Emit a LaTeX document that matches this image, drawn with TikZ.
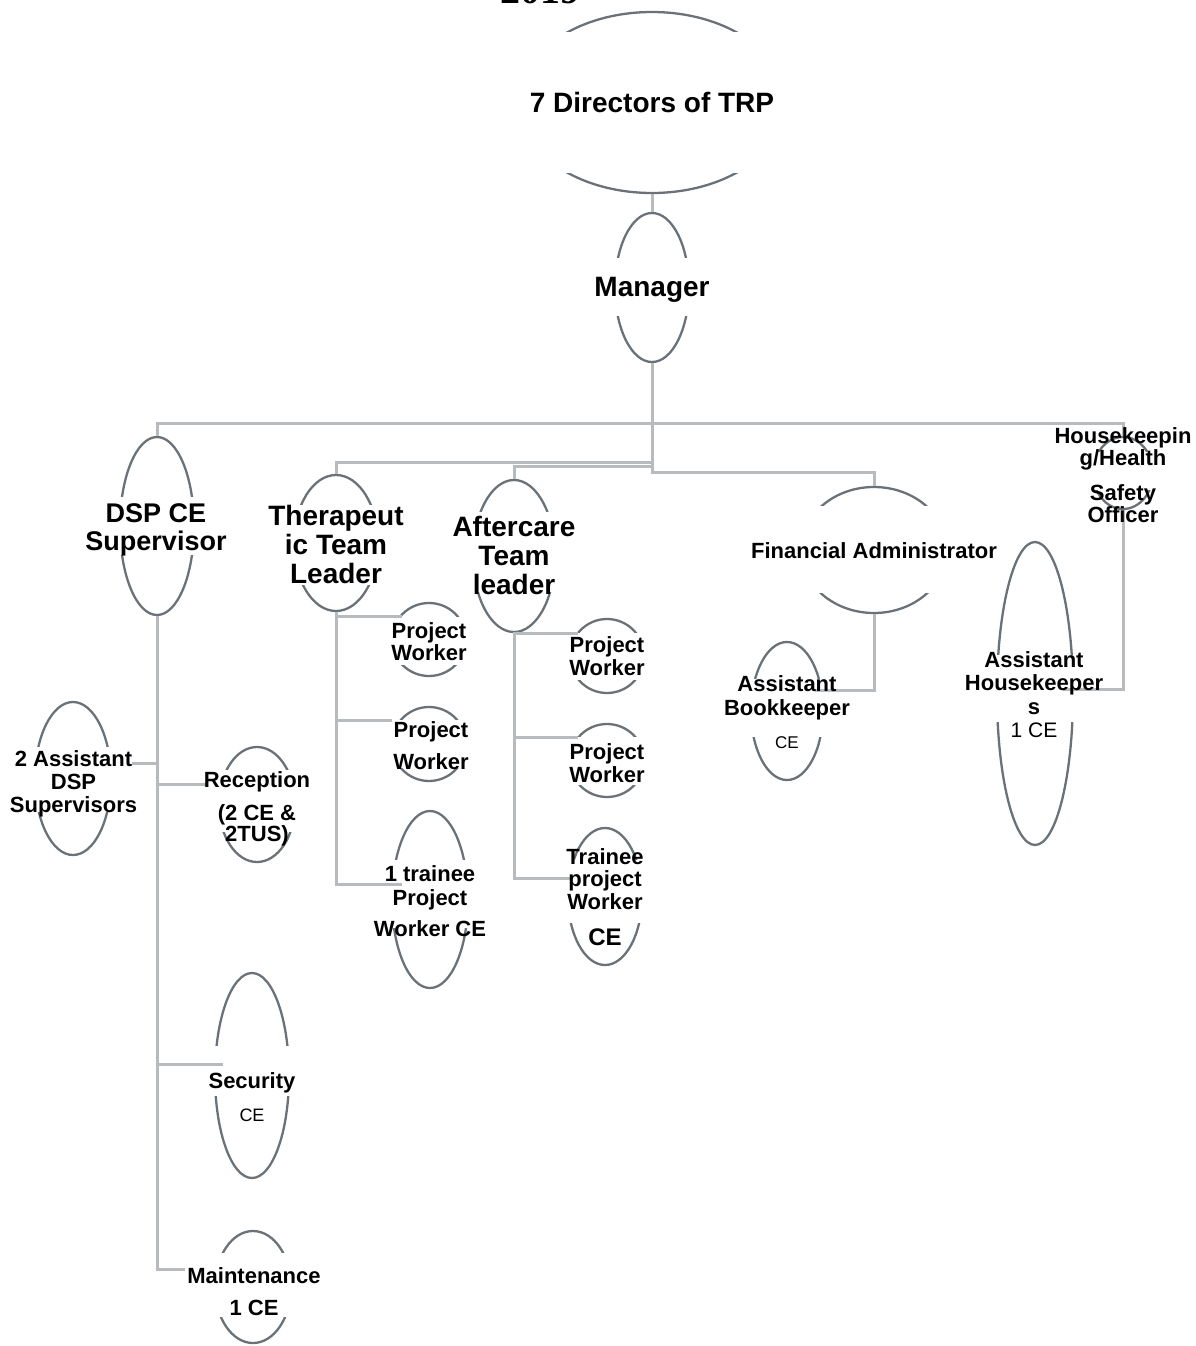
\documentclass[tikz,border=0pt]{standalone}
\usepackage{fontspec}
\setmainfont{Liberation Sans}
\newfontfamily\yearfont{Liberation Serif}
\usetikzlibrary{shapes.geometric}
\definecolor{ellgray}{RGB}{106,114,120}
\definecolor{linegray}{RGB}{184,187,189}
\begin{document}
\begin{tikzpicture}
	[
		x                       = 1pt,
		y                       = -1pt,
		post/.style             = {ellipse, draw=ellgray, line width=2.3pt, inner sep=0pt},
		conn/.style             = {draw=linegray, line width=3pt},
		lbl/.style              = {anchor=north, align=center, inner sep=0pt,
		                           font=\bfseries\fontsize{22}{23}\selectfont},
		big/.style              = {font=\bfseries\fontsize{28}{29}\selectfont}
	]
	\useasboundingbox (0,0) rectangle (1196,1346);

	\node [anchor=base, font=\yearfont\bfseries\fontsize{40}{40}\selectfont] (year) at (540,4) {2019};

	% ovals
	\node [post, minimum width=268pt, minimum height=181pt] (dir)  at (652,102.5) {};
	\node [post, minimum width=74pt,  minimum height=149pt] (mgr)  at (652,287.5) {};
	\node [post, minimum width=74pt,  minimum height=178pt] (dsp)  at (157,526)   {};
	\node [post, minimum width=84pt,  minimum height=136pt] (ther) at (336,543)   {};
	\node [post, minimum width=82pt,  minimum height=152pt] (aft)  at (514,556)   {};
	\node [post, minimum width=146pt, minimum height=126pt] (fin)  at (874,550)   {};
	\node [post, minimum width=60pt,  minimum height=72pt]  (hk)   at (1123,473)  {};
	\node [post, minimum width=76pt,  minimum height=303pt] (ahk)  at (1035,693.5) {};
	\node [post, minimum width=72pt,  minimum height=138pt] (bk)   at (787,711)   {};
	\node [post, minimum width=76pt,  minimum height=153pt] (asup) at (73,778.5)  {};
	\node [post, minimum width=76pt,  minimum height=115pt] (rec)  at (257,804.5) {};
	\node [post, minimum width=74pt,  minimum height=205pt] (sec)  at (252,1075.5) {};
	\node [post, minimum width=76pt,  minimum height=112pt] (mnt)  at (253,1287)  {};
	\node [post, minimum width=74pt,  minimum height=73pt]  (pw1)  at (429,639.5) {};
	\node [post, minimum width=74pt,  minimum height=74pt]  (pw2)  at (429,744)   {};
	\node [post, minimum width=76pt,  minimum height=177pt] (tpw)  at (430,899.5) {};
	\node [post, minimum width=74pt,  minimum height=74pt]  (apw1) at (607,656)   {};
	\node [post, minimum width=74pt,  minimum height=73pt]  (apw2) at (607,760.5) {};
	\node [post, minimum width=74pt,  minimum height=137pt] (atpw) at (605,896.5) {};

	% text frames
	\fill [white] (515,32) rectangle (789,173);
	\fill [white] (612,258) rectangle (692,316);
	\fill [white] (117,497) rectangle (197,555);
	\fill [white] (291,505) rectangle (381,585);
	\fill [white] (470,512) rectangle (558,592);
	\fill [white] (798,506) rectangle (950,593);
	\fill [white] (1090,452) rectangle (1156,490);
	\fill [white] (994,655) rectangle (1076,722);
	\fill [white] (748,679) rectangle (826,737);
	\fill [white] (32,747) rectangle (114,812);
	\fill [white] (216,770) rectangle (298,832);
	\fill [white] (212,1046) rectangle (292,1096);
	\fill [white] (212,1253) rectangle (294,1317);
	\fill [white] (389,617) rectangle (469,665);
	\fill [white] (389,720) rectangle (469,768);
	\fill [white] (389,860) rectangle (471,928);
	\fill [white] (567,633) rectangle (647,680);
	\fill [white] (567,737) rectangle (647,785);
	\fill [white] (565,860) rectangle (645,923);

	% lines
	\coordinate (asupin) at (132,763);
	\coordinate (recin)  at (207,784);
	\coordinate (secin)  at (223,1064);
	\coordinate (mntin)  at (185,1269);
	\coordinate (pw1in)  at (402,616);
	\coordinate (pw2in)  at (392,720);
	\coordinate (tpwin)  at (402,884);
	\coordinate (apw1in) at (578,633);
	\coordinate (apw2in) at (578,737);
	\coordinate (atpwin) at (570,878);
	\coordinate (bkin)   at (815,690);
	\coordinate (ahkin)  at (1063,689);

	\draw [conn] (dir.south) -- (mgr.north);
	\draw [conn] (mgr.south) -- ++(0,60)  -| (dsp.north);
	\draw [conn] (mgr.south) -- ++(0,60)  -| (hk.north);
	\draw [conn] (mgr.south) -- ++(0,99)  -| (ther.north);
	\draw [conn] (mgr.south) -- ++(0,103) -| (aft.north);
	\draw [conn] (mgr.south) -- ++(0,109) -| (fin.north);
	\draw [conn] (dsp.south) |- (asupin);
	\draw [conn] (dsp.south) |- (recin);
	\draw [conn] (dsp.south) |- (secin);
	\draw [conn] (dsp.south) |- (mntin);
	\draw [conn] (ther.south) |- (pw1in);
	\draw [conn] (ther.south) |- (pw2in);
	\draw [conn] (ther.south) |- (tpwin);
	\draw [conn] (aft.south) |- (apw1in);
	\draw [conn] (aft.south) |- (apw2in);
	\draw [conn] (aft.south) |- (atpwin);
	\draw [conn] (fin.south) |- (bkin);
	\draw [conn] (hk.south) |- (ahkin);

	% labels
	\node [lbl, big] (dirt)  at (652,92)  {7 Directors of TRP};
	\node [lbl, big] (mgrt)  at (652,277) {Manager};
	\node [lbl, font=\bfseries\fontsize{27}{28}\selectfont] (dspt) at (156,503) {DSP CE\\Supervisor};
	\node [lbl, big] (thert) at (336,505) {Therapeut\\ic Team\\Leader};
	\node [lbl, big] (aftt)  at (514,516) {Aftercare\\Team\\leader};
	\node [lbl] (fint)  at (874,542) {Financial Administrator};
	\node [lbl, font=\bfseries\fontsize{22}{22}\selectfont] (hkt) at (1123,427)
		{Housekeepin\\g/Health\\[13pt]Safety\\Officer};
	\node [lbl, font=\bfseries\fontsize{22}{23.5}\selectfont] (ahkt) at (1034,651)
		{Assistant\\Housekeeper\\s\\{\mdseries\fontsize{21}{23.5}\selectfont 1 CE}};
	\node [lbl, font=\bfseries\fontsize{22}{24}\selectfont] (bkt) at (787,675)
		{Assistant\\Bookkeeper\\[9pt]{\mdseries\fontsize{17}{20}\selectfont CE}};
	\node [lbl] (asupt) at (73.5,750) {2 Assistant\\DSP\\Supervisors};
	\node [lbl, font=\bfseries\fontsize{22}{21}\selectfont] (rect) at (257,771)
		{Reception\\[12pt](2 CE \&\\2TUS)};
	\node [lbl] (sect)  at (252,1072) {Security\\[10pt]{\mdseries\fontsize{18}{20}\selectfont CE}};
	\node [lbl] (mntt)  at (254,1267) {Maintenance\\[9pt]1 CE};
	\node [lbl, font=\bfseries\fontsize{22}{22}\selectfont] (pw1t) at (429,622) {Project\\Worker};
	\node [lbl, font=\bfseries\fontsize{22}{22}\selectfont] (pw2t) at (431,721) {Project\\[10pt]Worker};
	\node [lbl, font=\bfseries\fontsize{22}{24}\selectfont] (tpwt) at (430,865)
		{1 trainee\\Project\\[7pt]Worker CE};
	\node [lbl] (apw1t) at (607,636) {Project\\Worker};
	\node [lbl] (apw2t) at (607,743) {Project\\Worker};
	\node [lbl, font=\bfseries\fontsize{22}{22.5}\selectfont] (atpwt) at (605,848)
		{Trainee\\project\\Worker\\[13.5pt]{\fontsize{24}{24}\selectfont CE}};
\end{tikzpicture}
\end{document}
